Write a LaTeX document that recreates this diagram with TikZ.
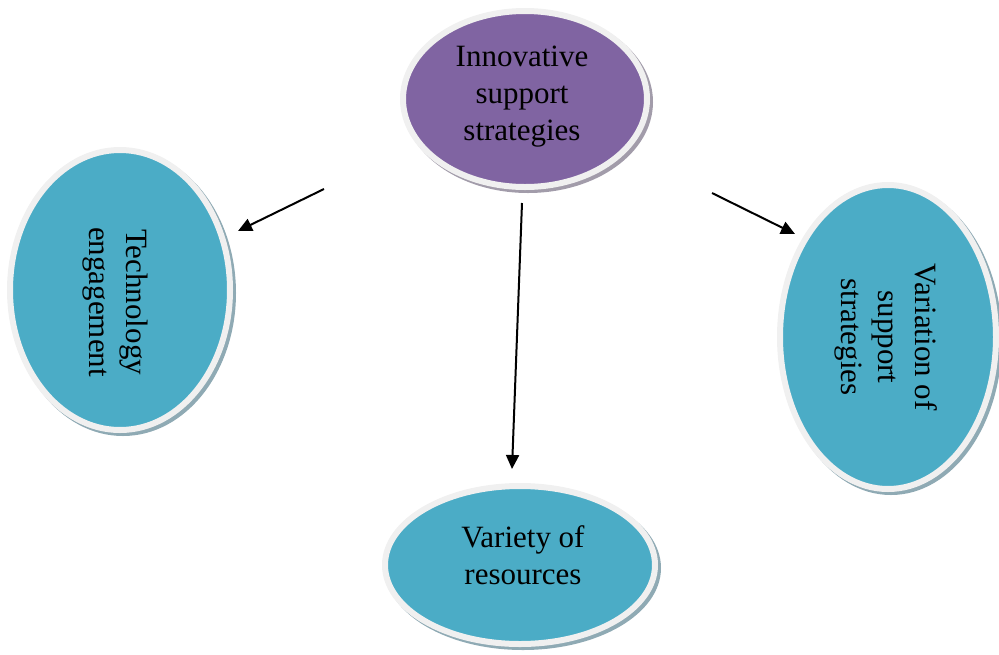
\documentclass[tikz,border=0pt]{standalone}
\usepackage{fontspec}
\setmainfont{Liberation Serif}
\usetikzlibrary{shapes.geometric,shadows,arrows.meta}

\definecolor{purplefill}{HTML}{8064A2}
\definecolor{aquafill}{HTML}{4BACC6}
\definecolor{rimcol}{HTML}{F0F0F0}
\definecolor{aquashadow}{HTML}{8FAAB4}
\definecolor{purpleshadow}{HTML}{A29CAA}

\tikzset{
  bubble/.style={ellipse, inner sep=0pt, outer sep=0pt, draw=rimcol, line width=6pt},
  aquabubble/.style={bubble, fill=aquafill,
    drop shadow={shadow xshift=3pt, shadow yshift=-3pt, fill=aquashadow, draw=aquashadow, line width=6pt, opacity=1}},
  purplebubble/.style={bubble, fill=purplefill,
    drop shadow={shadow xshift=3pt, shadow yshift=-3pt, fill=purpleshadow, draw=purpleshadow, line width=6pt, opacity=1}},
  label text/.style={align=center, inner sep=0pt, font=\fontsize{31}{37}\selectfont},
  link/.style={line width=2pt, -{Triangle[length=14pt, width=13pt]}}
}

\begin{document}
\begin{tikzpicture}[x=1pt, y=-1pt]
  \useasboundingbox (0,0) rectangle (999,654);

  % ellipses
  \node[purplebubble, minimum width=244pt, minimum height=176pt] (core) at (525,99) {};
  \node[aquabubble, minimum width=220pt, minimum height=280pt] (tech) at (120,290) {};
  \node[aquabubble, minimum width=216pt, minimum height=304pt] (vary) at (888,337) {};
  \node[aquabubble, minimum width=270pt, minimum height=158pt] (res) at (520,565) {};

  % labels
  \node[label text] (core-t) at (522,97) {Innovative\\support\\strategies};
  \node[label text, rotate=-90] (tech-t) at (115,302) {Technology\\engagement};
  \node[label text, rotate=-90] (vary-t) at (886,337) {Variation of\\support\\strategies};
  \node[label text] (res-t) at (523,555) {Variety of\\resources};

  % arrow ends
  \coordinate (l-start) at (324,189);
  \coordinate (l-end) at (238,231);
  \coordinate (r-start) at (712,193);
  \coordinate (r-end) at (795,234);
  \coordinate (d-start) at (522,203);
  \coordinate (d-end) at (512,469);

  \draw[link] (l-start) -- (l-end);
  \draw[link] (r-start) -- (r-end);
  \draw[link] (d-start) -- (d-end);
\end{tikzpicture}
\end{document}
